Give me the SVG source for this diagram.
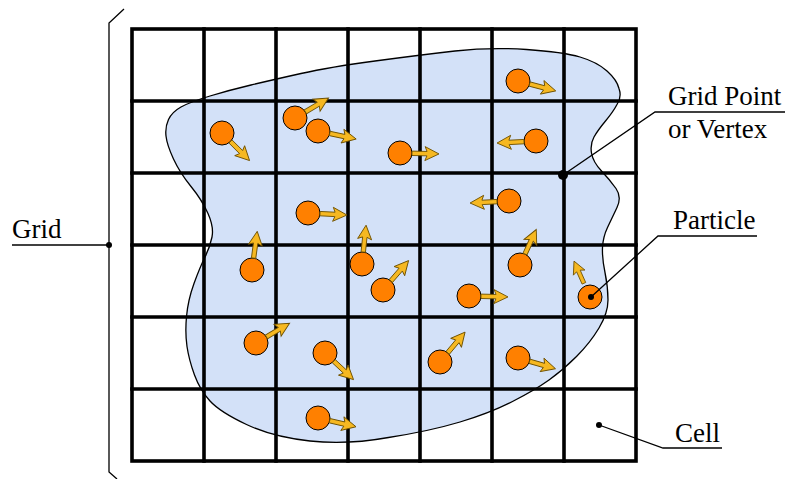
<svg xmlns="http://www.w3.org/2000/svg" xmlns:xlink="http://www.w3.org/1999/xlink" width="787" height="479" viewBox="0 0 787 479">
<style>
.lbl{font-family:"Liberation Serif","Times New Roman",serif;font-size:27px;fill:#000}
.grid{stroke:#000;stroke-width:3.6;fill:none;stroke-linecap:square}
.p{fill:#ff8000;stroke:#000;stroke-width:1}
.ldr{stroke:#000;stroke-width:1.3;fill:none}
.arr{fill:#f6b821;stroke:#6e5000;stroke-width:0.9;stroke-linejoin:miter}
</style>
<defs>
<polygon id="arr" class="arr" points="0,-2.2 15,-2.2 13,-7 27,0 13,7 15,2.2 0,2.2"/>
</defs>
<rect width="787" height="479" fill="#fff"/>
<g id="fluid">
<path d="M166,136 Q165,127 168.5,119.5 Q172,112 181,107 Q190,102 210,96 Q230,90 251,85 Q272,80 301,73.5 Q330,67 375,61 Q420,55 455,51 Q490,47 526.5,49.5 Q563,52 580,57 Q597,62 607,71 Q617,80 619,88.5 Q622,97 617,104.5 Q613,112 605.5,121 Q598,130 594,137 Q590,144 591.5,153 Q593,162 601.5,171 Q610,180 616,188.5 Q622,197 617,207.5 Q612,218 607.5,227.5 Q603,237 602.5,247.5 Q602,258 605,272.5 Q608,287 608,300 Q608,313 599,328 Q590,343 576.5,356.5 Q563,370 549,380 Q535,390 512.5,401.5 Q490,413 460,422 Q430,431 388.5,437.5 Q347,445 310,441 Q273,437 246.5,424.5 Q220,412 210,401 Q200,390 194.5,375 Q189,360 187,346.5 Q185,333 186.5,316.5 Q188,300 194,283.5 Q200,267 205,257 Q210,247 212,237 Q214,227 208,213.5 Q202,200 191,186.5 Q180,173 173.5,159 Q167,145 166,136 Z" fill="#d3e1f8" stroke="#000" stroke-width="1.3"/>
</g>
<g id="grid">
<rect class="grid" x="132" y="29" width="504" height="432"/>
<path class="grid" d="M204,29V461M276,29V461M348,29V461M420,29V461M492,29V461M564,29V461M132,101H636M132,173H636M132,245H636M132,317H636M132,389H636"/>
</g>
<g id="particles">
<g id="p1"><circle class="p" cx="518" cy="81" r="12"/><use xlink:href="#arr" href="#arr" transform="translate(518 81) rotate(14.7) translate(12 0)"/></g>
<g id="p2"><circle class="p" cx="222" cy="133" r="12"/><use xlink:href="#arr" href="#arr" transform="translate(222 133) rotate(45) translate(12 0)"/></g>
<g id="p3"><circle class="p" cx="295" cy="118" r="12"/><use xlink:href="#arr" href="#arr" transform="translate(295 118) rotate(-30.7) translate(12 0)"/></g>
<g id="p4"><circle class="p" cx="318" cy="131" r="12"/><use xlink:href="#arr" href="#arr" transform="translate(318 131) rotate(11.9) translate(12 0)"/></g>
<g id="p5"><circle class="p" cx="400" cy="153" r="12"/><use xlink:href="#arr" href="#arr" transform="translate(400 153) rotate(1.4) translate(12 0)"/></g>
<g id="p6"><circle class="p" cx="536" cy="141" r="12"/><use xlink:href="#arr" href="#arr" transform="translate(536 141) rotate(177) translate(12 0)"/></g>
<g id="p7"><circle class="p" cx="509" cy="201" r="12"/><use xlink:href="#arr" href="#arr" transform="translate(509 201) rotate(177) translate(12 0)"/></g>
<g id="p8"><circle class="p" cx="308" cy="213" r="12"/><use xlink:href="#arr" href="#arr" transform="translate(308 213) rotate(3) translate(12 0)"/></g>
<g id="p9"><circle class="p" cx="252" cy="270" r="12"/><use xlink:href="#arr" href="#arr" transform="translate(252 270) rotate(-82.3) translate(12 0)"/></g>
<g id="p10"><circle class="p" cx="362" cy="264" r="12"/><use xlink:href="#arr" href="#arr" transform="translate(362 264) rotate(-84) translate(12 0)"/></g>
<g id="p11"><circle class="p" cx="383" cy="290" r="12"/><use xlink:href="#arr" href="#arr" transform="translate(383 290) rotate(-49) translate(12 0)"/></g>
<g id="p12"><circle class="p" cx="520" cy="265" r="12"/><use xlink:href="#arr" href="#arr" transform="translate(520 265) rotate(-65.4) translate(12 0)"/></g>
<g id="p13"><circle class="p" cx="469" cy="296" r="12"/><use xlink:href="#arr" href="#arr" transform="translate(469 296) rotate(1.4) translate(12 0)"/></g>
<g id="p14"><circle class="p" cx="590" cy="297" r="12"/><use xlink:href="#arr" href="#arr" transform="translate(590 297) rotate(-114) translate(15 0) scale(0.9)"/></g>
<g id="p15"><circle class="p" cx="256" cy="343" r="12"/><use xlink:href="#arr" href="#arr" transform="translate(256 343) rotate(-30.5) translate(12 0)"/></g>
<g id="p16"><circle class="p" cx="325" cy="353" r="12"/><use xlink:href="#arr" href="#arr" transform="translate(325 353) rotate(43) translate(12 0)"/></g>
<g id="p17"><circle class="p" cx="440" cy="362" r="12"/><use xlink:href="#arr" href="#arr" transform="translate(440 362) rotate(-50) translate(12 0)"/></g>
<g id="p18"><circle class="p" cx="518" cy="358" r="12"/><use xlink:href="#arr" href="#arr" transform="translate(518 358) rotate(16) translate(12 0)"/></g>
<g id="p19"><circle class="p" cx="318" cy="418" r="12"/><use xlink:href="#arr" href="#arr" transform="translate(318 418) rotate(13) translate(12 0)"/></g>
</g>
<g id="connectors">
<path class="ldr" d="M124,9 L109,23 V472 L117,479"/>
<path class="ldr" d="M109,245 H12"/>
<circle cx="109" cy="245" r="3" fill="#000"/>
<path class="ldr" d="M563,175 L655,112 H785"/>
<circle cx="563" cy="175" r="5" fill="#000"/>
<path class="ldr" d="M591,297 L658,236 H757"/>
<circle cx="591" cy="297" r="3" fill="#000"/>
<path class="ldr" d="M599,425 L663,448 H722"/>
<circle cx="599" cy="425" r="3" fill="#000"/>
</g>
<g id="labels">
<text class="lbl" x="12" y="238">Grid</text>
<text class="lbl" x="668" y="105">Grid Point</text>
<text class="lbl" x="668" y="138">or Vertex</text>
<text class="lbl" x="673" y="229">Particle</text>
<text class="lbl" x="675" y="442">Cell</text>
</g>
</svg>
